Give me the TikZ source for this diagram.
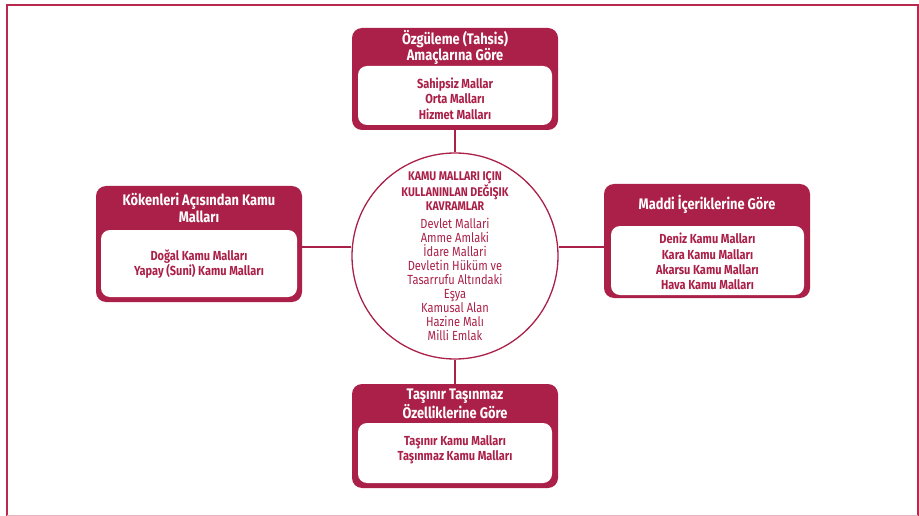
\documentclass[tikz,border=0pt]{standalone}
\usepackage{fontspec}
\setmainfont{Fira Sans}[FakeStretch=0.84]
\definecolor{crimson}{RGB}{170,32,72}
\definecolor{framecol}{RGB}{186,40,80}
\tikzset{
  outerbox/.style={draw=none, fill=crimson, rounded corners=10pt, minimum width=206pt},
  innerbox/.style={draw=none, fill=white, rounded corners=9pt},
  headtext/.style={text=white, align=center, font=\bfseries\fontsize{15.3}{16.5}\selectfont, inner sep=0pt},
  bodytext/.style={text=crimson, align=center, font=\bfseries\fontsize{13.1}{15.3}\selectfont, inner sep=0pt},
  link/.style={draw=crimson, line width=1.6pt}
}
\begin{document}
\begin{tikzpicture}[x=1pt, y=-1pt]
\useasboundingbox (0,0) rectangle (919,516);
% page frame
\draw[framecol, line width=2.2pt] (7,516) -- (7,5) -- (918,5) -- (918,516);
\draw[framecol!35, line width=1pt] (7,515.5) -- (918,515.5);

% central circle
\node[circle, draw=crimson, line width=1.3pt, minimum size=206pt, inner sep=0pt] (circ) at (455,256) {};
\node[text=crimson, align=center, inner sep=0pt, font=\bfseries\fontsize{12.6}{13.5}\selectfont] (ctitle) at (455,191) {KAMU MALLARI IÇIN\\KULLANINLAN DEĞIŞIK\\KAVRAMLAR};
\node[text=crimson, align=center, inner sep=0pt, font=\fontsize{13.2}{14.1}\selectfont] (citems) at (455,279.5)
  {Devlet Mallari\\Amme Amlaki\\İdare Mallari\\Devletin Hüküm ve\\Tasarrufu Altındaki\\Eşya\\Kamusal Alan\\Hazine Malı\\Milli Emlak};

% top box
\node[outerbox, minimum height=102pt] (topbox) at (455,79) {};
\node[innerbox, minimum width=194pt, minimum height=59pt] (topin) at (455,95.5) {};
\node[headtext] (tophead) at (455,47.5) {Özgüleme (Tahsis)\\Amaçlarına Göre};
\node[bodytext] (topbody) at (455,98.5) {Sahipsiz Mallar\\Orta Malları\\Hizmet Malları};

% left box
\node[outerbox, minimum height=116pt] (leftbox) at (199,244) {};
\node[innerbox, minimum width=196pt, minimum height=67pt] (leftin) at (199,263.5) {};
\node[headtext] (lefthead) at (199,208) {Kökenleri Açısından Kamu\\Malları};
\node[bodytext] (leftbody) at (199,264) {Doğal Kamu Malları\\Yapay (Suni) Kamu Malları};

% right box
\node[outerbox, minimum height=114pt] (rightbox) at (707,241) {};
\node[innerbox, minimum width=193pt, minimum height=69pt] (rightin) at (707.5,260.5) {};
\node[headtext] (righthead) at (707,204) {Maddi İçeriklerine Göre};
\node[bodytext] (rightbody) at (707.5,261.5) {Deniz Kamu Malları\\Kara Kamu Malları\\Akarsu Kamu Malları\\Hava Kamu Malları};

% bottom box
\node[outerbox, minimum height=104pt] (botbox) at (455,436) {};
\node[innerbox, minimum width=194pt, minimum height=60pt] (botin) at (455,453) {};
\node[headtext] (bothead) at (455,403.5) {Taşınır Taşınmaz\\Özelliklerine Göre};
\node[bodytext] (botbody) at (455,449.5) {Taşınır Kamu Malları\\Taşınmaz Kamu Malları};

% connectors
\coordinate (hline) at (0,247);
\draw[link] (topbox.south) -- (circ.north);
\draw[link] (circ.south) -- (botbox.north);
\draw[link] (leftbox.east |- hline) -- (circ.west |- hline);
\draw[link] (circ.east |- hline) -- (rightbox.west |- hline);
\end{tikzpicture}
\end{document}
